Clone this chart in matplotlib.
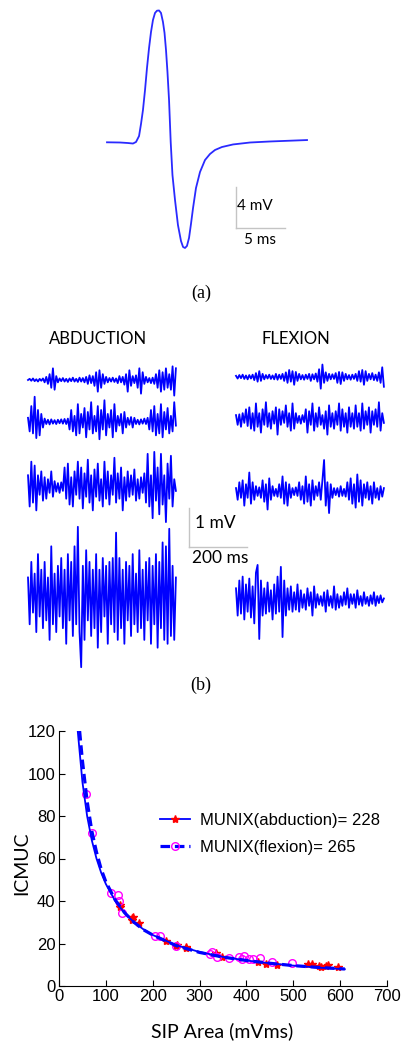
import matplotlib

matplotlib.use('Agg')
import matplotlib.pyplot as plt
import numpy as np
from matplotlib.lines import Line2D

# ---------------- datos ----------------
# (a) MUAP: tiempo (ms) y amplitud (mV)
muap_t = [0, 1.33, 2.14, 2.65, 2.96, 3.27, 3.47, 3.67, 3.88, 4.08, 4.29, 4.49, 4.69, 4.90,
          5.10, 5.31, 5.51, 5.71, 5.87, 6.02, 6.17, 6.33, 6.50, 6.68, 6.94, 7.24, 7.55, 7.76,
          7.96, 8.16, 8.37, 8.57, 8.78, 9.08, 9.49, 10.0, 10.51, 11.02, 11.73, 12.86, 14.59,
          16.63, 20.41]
muap_v = [0, -0.02, -0.07, -0.12, 0.03, 0.61, 1.79, 3.15, 5.10, 7.25, 9.20, 10.76, 11.93,
          12.62, 12.84, 12.86, 12.62, 11.74, 10.67, 9.01, 6.86, 4.13, 0.03, -3.19, -5.63,
          -8.07, -9.63, -10.21, -10.31, -10.11, -9.33, -7.96, -6.41, -4.46, -2.90, -1.73,
          -1.14, -0.75, -0.46, -0.21, -0.02, 0.08, 0.22]

# (b) EMG de superficie (uV), 4 niveles de fuerza
abd_1 = [0, 30, -20, 40, -30, 20, -40, 30, -20, 40,
         -60, 80, -100, 150, -200, 300, -250, 100, -60, 40,
         -30, 50, -40, 30, -50, 40, -30, 60, -40, 30,
         -50, 60, -40, 50, -60, 80, -100, 120, -80, 100,
         -150, 200, -300, 250, -200, 150, -100, 80, -60, 50,
         -40, 60, -50, 40, -80, 100, -60, 80, -120, 150,
         -300, 250, -150, 100, -80, 120, -200, 300, -350, 200,
         -100, 80, -60, 50, -80, 60, -100, 150, -200, 250,
         -300, 200, -250, 300, -200, 150, -250, 350, -400, 300]
abd_2 = [100, -250, 400, -300, 640, -420, 300, -350, 200, -150,
         80, -60, 50, -70, 60, -50, 40, -60, 50, -40, 60, -50, 70, -60, 80,
         -200, 300, -250, 150, -350, 450, -300, 200, -150, 350,
         -400, 250, -200, 500, -300, 150, -250, 400, -450, 300,
         -200, 550, -350, 200, -150, 300, -400, 450, -250, 150,
         -100, 200, -300, 250, -150, 100, -80, 120, -150, 100,
         -60, 50, -70, 60, -50, 80, -60, 100,
         -200, 300, -250, 400, -350, 200, -300, 450, -400, 250, -200, 350, -300, 150,
         -250, 500, -100]
abd_3 = [300, -500, 650, -400, 550, -600, 300, -200, 400, -350,
         250, -300, 200, -150, 400, -250, 150, -120, 100, -150,
         120, -100, 500, -300, 600, -450, 250, -500, 400, -200,
         650, -300, 500, -550, 350, -250, 700, -400, 300, -600,
         450, -250, 600, -350, 200, -500, 650, -300, 400, -450,
         300, -200, 750, -400, 350, -300, 500, -600, 250, -350,
         400, -250, 300, -200, 450, -350, 200, -300, 250, -150,
         350, -400, 850, -500, 300, -800, 900, -350, 500, -700,
         850, -450, 300, -900, 600, -300, 800, -500, 200, -100]
abd_4 = [500, -700, 900, -400, 600, -900, 1100, -500, 700, -800,
         900, -600, 500, -1100, 1300, -700, 600, -900, 800, -500,
         1000, -800, 700, -1200, 1100, -600, 900, -1000, 1300, -700,
         1800, -900, -1800, 800, -1100, 1200, -600, 900, -1000, 700,
         -800, 1100, -1300, 700, -900, 1000, -500, 800, -1200, 900,
         -700, 1000, -900, 1650, -1100, 1000, -800, 700, -1200, 900,
         -600, 800, -1000, 1100, -700, 600, -900, 1200, -800, 700,
         -1100, 900, -600, 1000, -1200, 800, -700, 1100, -1300, 900,
         -800, 1400, -1100, 1300, -1200, 1750, -1000, 800, -1100, 500]
flx_1 = [30, -40, 50, -30, 60, -50, 40, -60, 50, -40,
         60, -80, 100, -120, 150, -100, 80, -60, 50, -40,
         60, -50, 40, -60, 80, -70, 60, -50, 80, -100,
         120, -150, 180, -120, 150, -200, 130, -100, 80, -60,
         50, -70, 60, -50, 80, -100, 70, -60, 90, -120,
         200, -300, 320, -150, 120, -100, 80, -60, 70, -50,
         100, -150, 130, -180, 120, -100, 80, -60, 50, -70,
         60, -50, 80, -100, 150, -120, 180, -200, 150, -100,
         80, -60, 100, -80, 60, -100, 120, -150, 250, -250]
flx_2 = [100, -150, 120, -200, 150, -100, 250, -180, 300, -250,
         150, -300, 400, -200, 150, -350, 250, -150, 430, -200,
         150, -250, 200, -120, 300, -400, 250, -150, 200, -100,
         350, -200, 150, -300, 400, -250, 150, -100, 80, -120,
         100, -80, 250, -350, 200, -150, 400, -300, 150, -200,
         300, -150, 100, -250, 200, -400, 350, -200, 150, -250,
         200, -150, 400, -300, 250, -200, 150, -350, 300, -200,
         150, -250, 350, -200, 150, -300, 400, -250, 200, -150,
         300, -350, 200, -150, 250, -200, 430, -300, 150, -100]
flx_3 = [100, -200, 250, -150, 300, -350, 200, -150, 500, -300,
         250, -200, 150, -100, 120, -150, 300, -250, 200, -450,
         350, -200, 150, -100, 80, -120, 200, -150, 400, -300,
         250, -350, 200, -150, 100, -80, 120, -100, 250, -200,
         150, -300, 400, -250, 200, -350, 300, -200, 150, -100,
         250, -200, 300, 820, -350, 250, -540, 200, -150, 100,
         -80, 100, -120, 150, -100, 80, -120, 250, -200, 350,
         -300, 200, -400, 450, -250, 300, -350, 200, -150, 250,
         -200, 150, -300, 250, -150, 100, -200, 150, -120, 100]
flx_4 = [300, -400, 500, -350, 600, -500, 400, -300, 550, -450,
         350, -600, 700, 900, -1000, 500, -400, 300, -350, 450,
         -300, 250, -500, 400, -350, 600, -300, 850, -950, 500,
         -400, 300, -250, 350, -300, 200, -250, 400, -300, 250,
         -200, 150, -250, 300, -150, 200, -400, 350, -200, 150,
         -120, 100, -150, 200, -300, 250, -150, 100, -200, 350,
         -250, 150, -200, 100, -150, 200, -120, 300, -200, 150,
         -100, 150, -200, 250, -120, 100, -150, 200, -100, 80,
         -150, 120, -100, 200, -150, 100, -80, 120, -60, 40]
abd_traces = [abd_1, abd_2, abd_3, abd_4]
flx_traces = [flx_1, flx_2, flx_3, flx_4]
trace_ms = 510

# (c) curvas MUNIX: area SIP (mVms) vs ICMUC
fit_abd_x = [40, 50, 60, 70, 80, 90, 100, 120, 140, 160, 180, 200, 250, 300, 350, 400,
             450, 500, 550, 610]
fit_abd_y = [120, 96, 80, 68.6, 60, 53.3, 48, 40, 34.3, 30, 26.7, 24, 19.2, 16, 13.7, 12,
             10.7, 9.6, 8.7, 7.9]
fit_flx_x = [44, 50, 60, 70, 80, 90, 100, 120, 140, 160, 180, 200, 250, 300, 350, 400,
             450, 500, 550, 610]
fit_flx_y = [120, 106, 87, 73, 63, 55, 49, 40.5, 34.5, 30, 26.5, 24, 19, 15.8, 13.6, 12,
             10.7, 9.6, 8.8, 8]
pts_abd_x = [130, 131, 155, 156, 158, 170, 228, 250, 252, 270, 272, 335, 348, 425, 442,
             465, 532, 540, 555, 560, 570, 575, 595]
pts_abd_y = [38, 37, 32, 31, 32.5, 29.5, 21, 19, 19.5, 18, 18.5, 15.5, 13.5, 11.5, 10.5,
             10, 10.5, 10.5, 9.5, 9, 9.5, 10, 9]
pts_flx_x = [57, 70, 110, 125, 127, 135, 205, 215, 250, 322, 327, 337, 362, 385, 390, 395,
             405, 415, 430, 455, 497]
pts_flx_y = [90.5, 72, 44, 43, 40, 34.5, 23.5, 23.5, 19, 15, 16, 13.5, 13, 13.5, 12.8, 14,
             12.8, 12.8, 13, 11.5, 11]
munix_abd = 228
munix_flx = 265

# ---------------- figura ----------------
W, H = 402, 1045
fig = plt.figure(figsize=(W / 100, H / 100), dpi=100)


def rect(x0, y0, x1, y1):
    return [x0 / W, 1 - y1 / H, (x1 - x0) / W, (y1 - y0) / H]


def fx(x):
    return x / W


def fy(y):
    return 1 - y / H


sans = 'Lato'
bar_color = '#c4c4c4'

# ---- (a) ----
ms_px, mv_px = 9.8, 10.25  # px por ms / por mV
x0a, y0a = 107, 142.3
ax_a = fig.add_axes(rect(100, 0, 320, 260))
ax_a.plot(muap_t, muap_v, color='#2a2aff', lw=1.3)
ax_a.set_xlim((100 - x0a) / ms_px, (320 - x0a) / ms_px)
ax_a.set_ylim((y0a - 260) / mv_px, (y0a - 0) / mv_px)
bt, bv = (236 - x0a) / ms_px, (y0a - 228) / mv_px
ax_a.plot([bt, bt], [bv, bv + 4], color=bar_color, lw=1)
ax_a.plot([bt, bt + 5], [bv, bv], color=bar_color, lw=1)
ax_a.axis('off')
fig.text(fx(237), fy(206), '4 mV', family=sans, fontsize=11, va='center', ha='left')
fig.text(fx(244), fy(240), '5 ms', family=sans, fontsize=11, va='center', ha='left')
fig.text(fx(201), fy(293), '(a)', family='Liberation Serif', fontsize=13, ha='center', va='center')

# ---- (b) ----
k_ms = 200 / 58      # ms por px
k_uv = 1000 / 39     # uV por px
ax_b = fig.add_axes(rect(0, 320, 402, 690))
ax_b.set_xlim(-28 * k_ms, (402 - 28) * k_ms)
ax_b.set_ylim(0, 370 * k_uv)
left_base = [380, 421.7, 487, 597]
right_base = [377, 419, 492, 600]
right_start = (236 - 28) * k_ms
for vals, b in zip(abd_traces, left_base):
    t = np.linspace(0, trace_ms, len(vals))
    ax_b.plot(t, np.array(vals) + (690 - b) * k_uv, color='#0000ff', lw=1.3)
for vals, b in zip(flx_traces, right_base):
    t = np.linspace(0, trace_ms, len(vals)) + right_start
    ax_b.plot(t, np.array(vals) + (690 - b) * k_uv, color='#0000ff', lw=1.3)
sb_t, sb_v = (189 - 28) * k_ms, (690 - 547) * k_uv
ax_b.plot([sb_t, sb_t], [sb_v, sb_v + 1000], color=bar_color, lw=1)
ax_b.plot([sb_t, sb_t + 200], [sb_v, sb_v], color=bar_color, lw=1)
ax_b.axis('off')
fig.text(fx(98), fy(339), 'ABDUCTION', family=sans, fontsize=12, ha='center', va='center')
fig.text(fx(296), fy(339), 'FLEXION', family=sans, fontsize=12, ha='center', va='center')
fig.text(fx(195), fy(523), '1 mV', family=sans, fontsize=12.5, ha='left', va='center')
fig.text(fx(192), fy(558), '200 ms', family=sans, fontsize=12.5, ha='left', va='center')
fig.text(fx(201), fy(685), '(b)', family='Liberation Serif', fontsize=13, ha='center', va='center')

# ---- (c) ----
ax = fig.add_axes(rect(59, 731, 387, 986))
ax.plot(pts_abd_x, pts_abd_y, ls='none', marker='*', ms=6, color='red')
ax.plot(pts_flx_x, pts_flx_y, ls='none', marker='o', ms=5.5, mfc='none', mec='magenta', mew=1)
ax.plot(fit_abd_x, fit_abd_y, color='blue', lw=1.3)
ax.plot(fit_flx_x, fit_flx_y, color='blue', lw=2.3, ls=(0, (3, 1.5)))
ax.set_xlim(0, 700)
ax.set_ylim(0, 120)
ax.set_xticks(np.arange(0, 701, 100))
ax.set_yticks(np.arange(0, 121, 20))
ax.tick_params(direction='in', length=4, width=0.8, labelsize=12, pad=2.5)
for lab in ax.get_xticklabels() + ax.get_yticklabels():
    lab.set_family('Liberation Sans')
ax.spines['top'].set_visible(False)
ax.spines['right'].set_visible(False)
ax.set_xlabel('SIP Area (mVms)', family=sans, fontsize=14, va='center')
ax.set_ylabel('ICMUC', family=sans, fontsize=14, va='center')
ax.xaxis.set_label_coords(0.498, -0.179)
ax.yaxis.set_label_coords(-0.113, 0.482)

handles = [
    Line2D([], [], color='blue', lw=1.3, marker='*', ms=6, mfc='red', mec='red'),
    Line2D([], [], color='blue', lw=2.3, ls=(0, (3, 1.5)), marker='o', ms=5.5, mfc='none',
           mec='magenta'),
]
labels = [f'MUNIX(abduction)= {munix_abd}', f'MUNIX(flexion)= {munix_flx}']
ax.legend(handles, labels, loc='upper left', bbox_to_anchor=(0.283, 0.71), frameon=False,
          borderpad=0, handlelength=1.8, handletextpad=0.6, labelspacing=0.7,
          prop={'family': 'Liberation Sans', 'size': 12})

fig.savefig('out.png', dpi=100)
